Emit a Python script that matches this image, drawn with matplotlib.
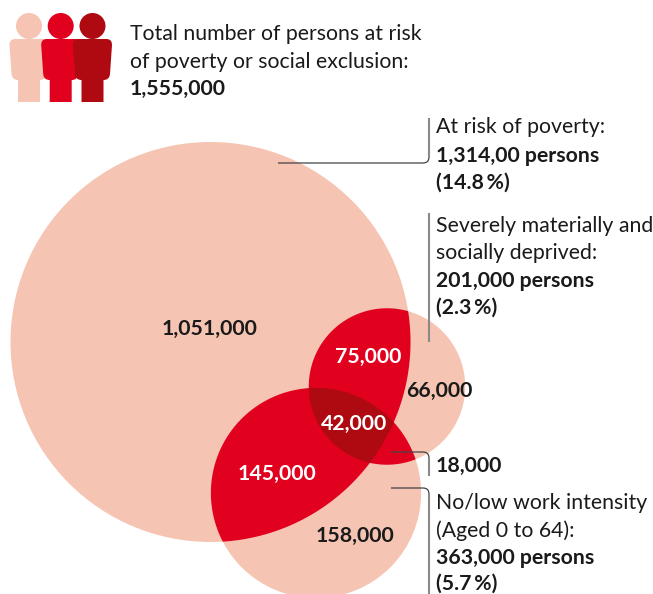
import numpy as np
import matplotlib
matplotlib.use('Agg')
import matplotlib.pyplot as plt
from matplotlib.patches import Circle, PathPatch, Polygon
from matplotlib.path import Path

plt.rcParams['font.family'] = ['Lato', 'DejaVu Sans']

# totals of the three groups, circle area follows these
set_names = ['poverty', 'deprived', 'work']
set_totals = [1314000, 201000, 363000]

# venn regions: which sets, value
region_sets = [(0,), (1,), (2,), (0, 1), (0, 2), (1, 2), (0, 1, 2)]
region_values = [1051000, 66000, 158000, 75000, 145000, 18000, 42000]

PALE = '#F6C4B2'
RED = '#E2001F'
DARK = '#AF0A12'
INK = '#1A1A1A'
GREY = '#8A8A8A'

# layout in pixels, y going down
centers = [(210.5, 342), (387, 386.5), (316, 493)]
R_BIG = 200
radii = [R_BIG * np.sqrt(t / set_totals[0]) for t in set_totals]


def in_circle(pts, i):
    return np.hypot(pts[:, 0] - centers[i][0], pts[:, 1] - centers[i][1]) <= radii[i] + 1e-9


def overlap_polygon(ids):
    # the overlap of circles is convex, so boundary points sorted by angle are enough
    keep = []
    for i in ids:
        t = np.linspace(0, 2 * np.pi, 1500)
        pts = np.column_stack([centers[i][0] + radii[i] * np.cos(t),
                               centers[i][1] + radii[i] * np.sin(t)])
        for j in ids:
            if j != i:
                pts = pts[in_circle(pts, j)]
        keep.append(pts)
    pts = np.vstack(keep)
    mid = pts.mean(axis=0)
    ang = np.arctan2(pts[:, 1] - mid[1], pts[:, 0] - mid[0])
    return pts[np.argsort(ang)]


def person(ax, cx, color):
    ax.add_patch(Circle((cx, 26), 13, color=color, lw=0))
    verts = [(cx - 14, 39), (cx + 14, 39), (cx + 19.5, 39), (cx + 19.5, 45),
             (cx + 17.5, 74), (cx + 17, 80), (cx + 11, 80),
             (cx + 11, 102), (cx - 11, 102), (cx - 11, 80),
             (cx - 17, 80), (cx - 17.5, 74),
             (cx - 19.5, 45), (cx - 19.5, 39), (cx - 14, 39)]
    codes = [Path.MOVETO, Path.LINETO, Path.CURVE3, Path.CURVE3,
             Path.LINETO, Path.CURVE3, Path.CURVE3,
             Path.LINETO, Path.LINETO, Path.LINETO,
             Path.CURVE3, Path.CURVE3,
             Path.LINETO, Path.CURVE3, Path.CURVE3]
    ax.add_patch(PathPatch(Path(verts, codes), facecolor=color, lw=0))


def leader(ax, x0, y0, ybar, x1=429):
    # thin horizontal from the circle, rounded corner, grey vertical up or down
    sign = 1 if ybar > y0 else -1
    verts = [(x0, y0), (x1 - 6, y0), (x1, y0), (x1, y0 + sign * 6)]
    codes = [Path.MOVETO, Path.LINETO, Path.CURVE3, Path.CURVE3]
    ax.add_patch(PathPatch(Path(verts, codes), fc='none', ec='#444444', lw=0.9))
    ax.plot([x1, x1], [y0 + sign * 6, ybar], color=GREY, lw=1.5, solid_capstyle='butt')


fig = plt.figure(figsize=(6.53, 5.94), dpi=100)
ax = fig.add_axes([0, 0, 1, 1])
ax.set_xlim(0, 653)
ax.set_ylim(594, 0)
ax.axis('off')

# pale circles first, then the overlaps
for c, r in zip(centers, radii):
    ax.add_patch(Circle(c, r, color=PALE, lw=0))
for ids in region_sets:
    if len(ids) > 1:
        col = DARK if len(ids) == 3 else RED
        ax.add_patch(Polygon(overlap_polygon(ids), closed=True, facecolor=col, lw=0))

# icon
person(ax, 29, PALE)
person(ax, 60.7, RED)
person(ax, 92.5, DARK)

leader(ax, 278, 163, 118)
ax.plot([429, 429], [213, 342], color=GREY, lw=1.5, solid_capstyle='butt')
leader(ax, 391, 452, 476)
leader(ax, 391, 488, 594)

# region labels
label_pos = [(210, 335), (439.5, 396.7), (354.5, 541.7), (368, 362.7),
             (277, 480), (None, None), (354, 430)]
label_col = [INK, INK, INK, 'white', 'white', INK, 'white']
for v, (x, y), col in zip(region_values, label_pos, label_col):
    if x is not None:
        ax.text(x, y, f'{v:,}', ha='center', va='baseline', fontsize=15.3,
                fontweight='bold', color=col)

# side texts: (x, baseline, text, bold)
texts = [
    (130, 40, 'Total number of persons at risk', False),
    (130, 67.7, 'of poverty or social exclusion:', False),
    (130, 95, '1,555,000', True),
    (436, 133.3, 'At risk of poverty:', False),
    (436, 161.7, '1,314,00 persons', True),
    (436, 189, '(14.8\u2009%)', True),
    (436, 231.7, 'Severely materially and', False),
    (436, 259, 'socially deprived:', False),
    (436, 286.7, f'{set_totals[1]:,} persons', True),
    (436, 314, '(2.3\u2009%)', True),
    (436, 471.7, f'{region_values[5]:,}', True),
    (436, 509, 'No/low work intensity', False),
    (436, 537, '(Aged 0 to 64):', False),
    (436, 564.5, f'{set_totals[2]:,} persons', True),
    (436, 590, '(5.7\u2009%)', True),
]
for x, y, s, bold in texts:
    ax.text(x, y, s, ha='left', va='baseline', fontsize=15.3,
            fontweight='bold' if bold else 'normal', color=INK)

fig.savefig('out.png', dpi=100)
